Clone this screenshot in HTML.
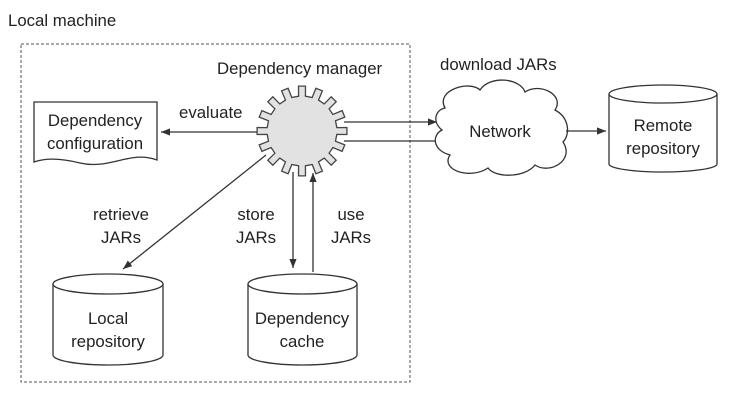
<!DOCTYPE html>
<html><head><style>body{margin:0;background:#fff}svg{display:block}text{font-family:"Liberation Sans",sans-serif;font-size:16.8px;fill:#222}</style></head>
<body>
<svg width="742" height="415" viewBox="0 0 742 415">
<defs><marker id="a" viewBox="0 0 10 10" refX="10" refY="5" markerWidth="7" markerHeight="7" orient="auto"><path d="M0,1 L10,5 L0,9z" fill="#333"/></marker></defs>
<text x="8" y="26">Local machine</text>
<rect x="21" y="44" width="389" height="338" fill="none" stroke="#555" stroke-dasharray="3,2"/>
<text x="217" y="74">Dependency manager</text>
<text x="440" y="70">download JARs</text>
<path d="M34,102 H157 V160 C130,150 110,170 80,163 C60,158 45,158 34,162 Z" fill="#fff" stroke="#333" stroke-width="1.3"/>
<text x="95" y="126" text-anchor="middle">Dependency</text>
<text x="95" y="149" text-anchor="middle">configuration</text>
<text x="179" y="118">evaluate</text>
<line x1="262" y1="132" x2="161" y2="132" stroke="#333" stroke-width="1.3" marker-end="url(#a)"/>
<line x1="266" y1="155" x2="123" y2="269" stroke="#333" stroke-width="1.3" marker-end="url(#a)"/>
<line x1="293" y1="172" x2="293" y2="268" stroke="#333" stroke-width="1.3" marker-end="url(#a)"/>
<line x1="313" y1="272" x2="313" y2="173" stroke="#333" stroke-width="1.3" marker-end="url(#a)"/>
<text x="121" y="220" text-anchor="middle">retrieve</text><text x="121" y="243" text-anchor="middle">JARs</text>
<text x="256" y="220" text-anchor="middle">store</text><text x="256" y="243" text-anchor="middle">JARs</text>
<text x="351" y="220" text-anchor="middle">use</text><text x="351" y="243" text-anchor="middle">JARs</text>
<line x1="344" y1="122" x2="437" y2="122" stroke="#333" stroke-width="1.3" marker-end="url(#a)"/>
<line x1="344" y1="141" x2="442" y2="141" stroke="#333" stroke-width="1.3"/>
<path d="M445,108 C435,90 470,80 480,90 C490,75 520,78 525,92 C540,82 565,95 555,110 C570,118 570,135 563,142 C575,160 550,175 535,165 C525,178 495,178 488,168 C470,180 440,170 450,155 C432,150 432,135 442,130 C432,122 435,110 445,108 Z" fill="#fff" stroke="#333" stroke-width="1.3"/>
<text x="500" y="137" text-anchor="middle">Network</text>
<line x1="566" y1="131" x2="606" y2="131" stroke="#333" stroke-width="1.3" marker-end="url(#a)"/>
<g fill="#fff" stroke="#333" stroke-width="1.3">
<path d="M609,94 V164 A54,8 0 0 0 717,164 V94"/><ellipse cx="663" cy="94" rx="54" ry="9"/>
<path d="M53,284 V355 A55,10 0 0 0 163,355 V284"/><ellipse cx="108" cy="284" rx="55" ry="10"/>
<path d="M248,284 V355 A54.5,10 0 0 0 357,355 V284"/><ellipse cx="302.5" cy="284" rx="54.5" ry="10"/>
</g>
<text x="663" y="131" text-anchor="middle">Remote</text><text x="663" y="154" text-anchor="middle">repository</text>
<text x="108" y="324" text-anchor="middle">Local</text><text x="108" y="347" text-anchor="middle">repository</text>
<text x="302" y="324" text-anchor="middle">Dependency</text><text x="302" y="347" text-anchor="middle">cache</text>
<path id="g" fill="#e2e2e2" stroke="#444" stroke-width="1.3" d=""/>
</svg>
<script>
var cx=302,cy=131,R=45,r=35,n=16,d="";
for(var i=0;i<n;i++){var a=i*2*Math.PI/n,s=Math.PI/n;
var pts=[[r,a-s*0.5],[R,a-s*0.4],[R,a+s*0.4],[r,a+s*0.5],[r,a+s*1.5]];
pts.forEach(function(p,j){d+=(i==0&&j==0?"M":"L")+(cx+p[0]*Math.cos(p[1])).toFixed(1)+","+(cy+p[0]*Math.sin(p[1])).toFixed(1);});}
document.getElementById("g").setAttribute("d",d+"Z");
</script>
</body></html>
